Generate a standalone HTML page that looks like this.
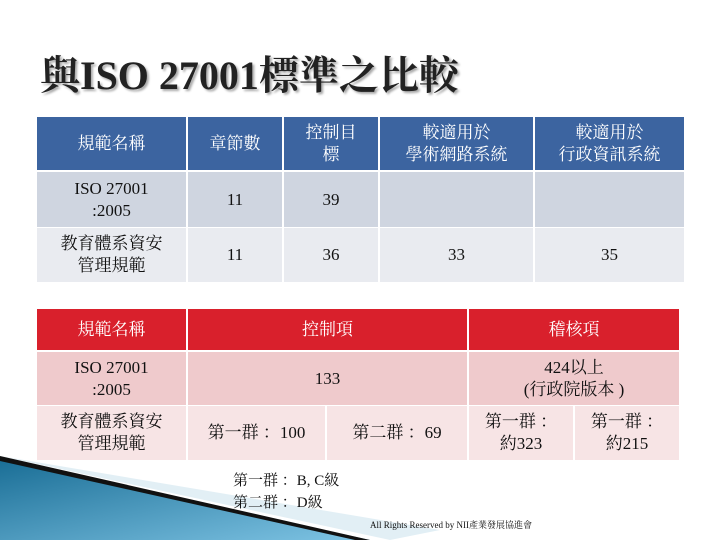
<!DOCTYPE html>
<html><head><meta charset="utf-8"><style>
body{margin:0;width:720px;height:540px;background:#fff;position:relative;overflow:hidden;font-family:"Liberation Serif","Noto Serif CJK SC","Noto Sans CJK TC",serif;}
.c{position:absolute;display:flex;align-items:center;justify-content:center;text-align:center;box-sizing:border-box;font-size:17px;line-height:22px;color:#111;}
.bh{background:#3c64a0;color:#fff;}
.b1{background:#cfd5e0;}
.b2{background:#e9ebf0;}
.rh{background:#d9202c;color:#fff;}
.r1{background:#efcacc;}
.r2{background:#f7e4e5;}
</style></head><body>
<svg style="position:absolute;left:0;top:0" width="720" height="540">
<defs><linearGradient id="g" x1="0" y1="0" x2="1" y2="1"><stop offset="0" stop-color="#1a6e96"/><stop offset="1" stop-color="#7fc4e4"/></linearGradient></defs>
<polygon points="0,456 440,530 390,540" fill="#cfe4ef" opacity="0.6"/>
<polygon points="0,460 370,540 0,540" fill="url(#g)"/>
<polygon points="0,456 370,540 355,540 0,461" fill="#111"/>
</svg>
<div style="position:absolute;left:40px;top:44px;font-size:40px;font-weight:bold;color:#222;text-shadow:2px 2px 2px #aaa;white-space:nowrap">與ISO 27001標準之比較</div>

<div>
<div class="c bh" style="left:37px;top:117px;width:149px;height:53px">規範名稱</div>
<div class="c bh" style="left:188px;top:117px;width:94px;height:53px">章節數</div>
<div class="c bh" style="left:284px;top:117px;width:94px;height:53px">控制目<br>標</div>
<div class="c bh" style="left:380px;top:117px;width:153px;height:53px">較適用於<br>學術網路系統</div>
<div class="c bh" style="left:535px;top:117px;width:149px;height:53px">較適用於<br>行政資訊系統</div>
<div class="c b1" style="left:37px;top:172px;width:149px;height:55px">ISO 27001<br>:2005</div>
<div class="c b1" style="left:188px;top:172px;width:94px;height:55px">11</div>
<div class="c b1" style="left:284px;top:172px;width:94px;height:55px">39</div>
<div class="c b1" style="left:380px;top:172px;width:153px;height:55px"></div>
<div class="c b1" style="left:535px;top:172px;width:149px;height:55px"></div>
<div class="c b2" style="left:37px;top:228px;width:149px;height:54px">教育體系資安<br>管理規範</div>
<div class="c b2" style="left:188px;top:228px;width:94px;height:54px">11</div>
<div class="c b2" style="left:284px;top:228px;width:94px;height:54px">36</div>
<div class="c b2" style="left:380px;top:228px;width:153px;height:54px">33</div>
<div class="c b2" style="left:535px;top:228px;width:149px;height:54px">35</div>
</div>

<div>
<div class="c rh" style="left:37px;top:309px;width:149px;height:41px">規範名稱</div>
<div class="c rh" style="left:188px;top:309px;width:279px;height:41px">控制項</div>
<div class="c rh" style="left:469px;top:309px;width:210px;height:41px">稽核項</div>
<div class="c r1" style="left:37px;top:352px;width:149px;height:53px">ISO 27001<br>:2005</div>
<div class="c r1" style="left:188px;top:352px;width:279px;height:53px">133</div>
<div class="c r1" style="left:469px;top:352px;width:210px;height:53px">424以上<br>(行政院版本 )</div>
<div class="c r2" style="left:37px;top:406px;width:149px;height:54px">教育體系資安<br>管理規範</div>
<div class="c r2" style="left:188px;top:406px;width:137px;height:54px">第一群 ：100</div>
<div class="c r2" style="left:327px;top:406px;width:140px;height:54px">第二群 ：69</div>
<div class="c r2" style="left:469px;top:406px;width:104px;height:54px">第一群 ：<br>約323</div>
<div class="c r2" style="left:575px;top:406px;width:104px;height:54px">第一群 ：<br>約215</div>
</div>

<div style="position:absolute;left:233px;top:470px;font-size:15px;line-height:22px;color:#111">第一群 ：B, C級<br>第二群 ：D級</div>
<div style="position:absolute;left:370px;top:518px;font-size:9px;color:#111;white-space:nowrap">All Rights Reserved by NII產業發展協進會</div>
</body></html>
